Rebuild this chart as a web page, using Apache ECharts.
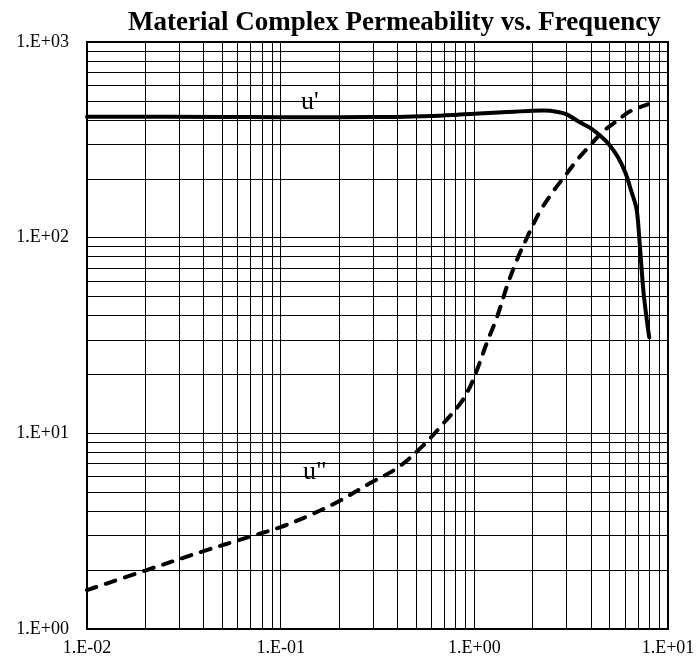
<!DOCTYPE html>
<html>
<head>
<meta charset="utf-8">
<script src="https://cdn.jsdelivr.net/npm/echarts@6/dist/echarts.min.js"></script>
<style>
  html, body { margin: 0; padding: 0; background: #fff; }
  #chart { width: 698px; height: 661px; }
</style>
</head>
<body>
<div id="chart"></div>
<script>
// --- data (log-log) ---
const uRealFreq = [0.01, 0.05, 0.1, 0.2, 0.4, 0.6, 0.8, 1.0, 1.4, 2.0, 2.3, 2.7, 3.0, 3.47, 4.0, 4.53, 5.0, 5.5, 6.0, 6.45, 6.88, 7.1, 7.3, 7.5, 7.8, 8.0];
const uRealVals = [415, 414, 413, 413, 414, 418, 424, 430, 437, 445, 446, 439, 427, 391, 362, 328, 297, 259, 217, 174, 140, 101, 70, 51, 37, 31];

const uImagFreq = [0.01, 0.02, 0.04, 0.07, 0.1, 0.14, 0.2, 0.29, 0.4, 0.54, 0.69, 0.85, 0.95, 1.04, 1.16, 1.31, 1.47, 1.66, 1.87, 2.18, 2.55, 2.95, 3.4, 3.97, 4.6, 5.38, 6.3, 7.87];
const uImagVals = [1.58, 1.99, 2.5, 2.97, 3.32, 3.8, 4.5, 5.57, 6.65, 8.6, 11.2, 14.3, 17.3, 21.5, 29, 39.3, 56, 77, 100, 136, 172, 208, 250, 297, 348, 391, 440, 480];

// minor grid values (log paper)
const xMinorGrid = [0.02, 0.03, 0.04, 0.05, 0.06, 0.07, 0.08, 0.09,
                    0.2, 0.3, 0.4, 0.5, 0.6, 0.7, 0.8, 0.9,
                    2, 3, 4, 5, 6, 7, 8, 9];
const yMinorGrid = [2, 3, 4, 5, 6, 7, 8, 9,
                    20, 30, 40, 50, 60, 70, 80, 90,
                    200, 300, 400, 500, 600, 700, 800, 900];

const titleText = 'Material Complex Permeability vs. Frequency';
const seriesNames = ["u'", 'u"'];

function sciLabel(v) {
  const e = Math.round(Math.log10(v));
  return '1.E' + (e < 0 ? '-' : '+') + String(Math.abs(e)).padStart(2, '0');
}

const chart = echarts.init(document.getElementById('chart'), null, { renderer: 'canvas' });

const labelFont = { fontFamily: 'Liberation Serif', fontSize: 18, color: '#000' };
const gridLine = { show: true, lineStyle: { color: '#000', width: 1 } };

chart.setOption({
  animation: false,
  backgroundColor: '#fff',
  title: {
    text: titleText,
    left: 123,
    top: 5,
    textStyle: { fontFamily: 'Liberation Serif', fontWeight: 'bold', fontSize: 27, color: '#000' }
  },
  grid: {
    left: 87, right: 30, top: 42, bottom: 32,
    show: true, borderColor: '#000', borderWidth: 2, backgroundColor: 'transparent'
  },
  xAxis: {
    type: 'log', logBase: 10, min: 0.01, max: 10, splitNumber: 3,
    axisLine: { show: false },
    axisTick: { show: false },
    axisLabel: Object.assign({ formatter: sciLabel, margin: 10, showMinLabel: true, showMaxLabel: true }, labelFont),
    splitLine: gridLine
  },
  yAxis: {
    type: 'log', logBase: 10, min: 1, max: 1000, splitNumber: 3,
    axisLine: { show: false },
    axisTick: { show: false },
    axisLabel: Object.assign({ formatter: sciLabel, margin: 18 }, labelFont),
    splitLine: gridLine
  },
  graphic: [
    { type: 'text', left: 301, top: 89, style: { text: seriesNames[0], font: '26px "Liberation Serif"', fill: '#000' } },
    { type: 'text', left: 303, top: 459, style: { text: seriesNames[1], font: '26px "Liberation Serif"', fill: '#000' } }
  ],
  series: [
    {
      name: 'grid',
      type: 'line',
      data: [],
      z: 1,
      silent: true,
      markLine: {
        silent: true,
        symbol: ['none', 'none'],
        label: { show: false },
        animation: false,
        lineStyle: { color: '#000', width: 1, type: 'solid' },
        emphasis: { disabled: true },
        data: xMinorGrid.map(v => ({ xAxis: v })).concat(yMinorGrid.map(v => ({ yAxis: v })))
      }
    },
    {
      name: seriesNames[0],
      type: 'line',
      z: 3,
      data: uRealFreq.map((f, i) => [f, uRealVals[i]]),
      showSymbol: false,
      smooth: 0.35,
      lineStyle: { color: '#000', width: 4, cap: 'round', join: 'round' }
    },
    {
      name: seriesNames[1],
      type: 'line',
      z: 3,
      data: uImagFreq.map((f, i) => [f, uImagVals[i]]),
      showSymbol: false,
      smooth: 0.35,
      lineStyle: { color: '#000', width: 4, type: [10, 10], cap: 'round' }
    }
  ]
});
</script>
</body>
</html>
